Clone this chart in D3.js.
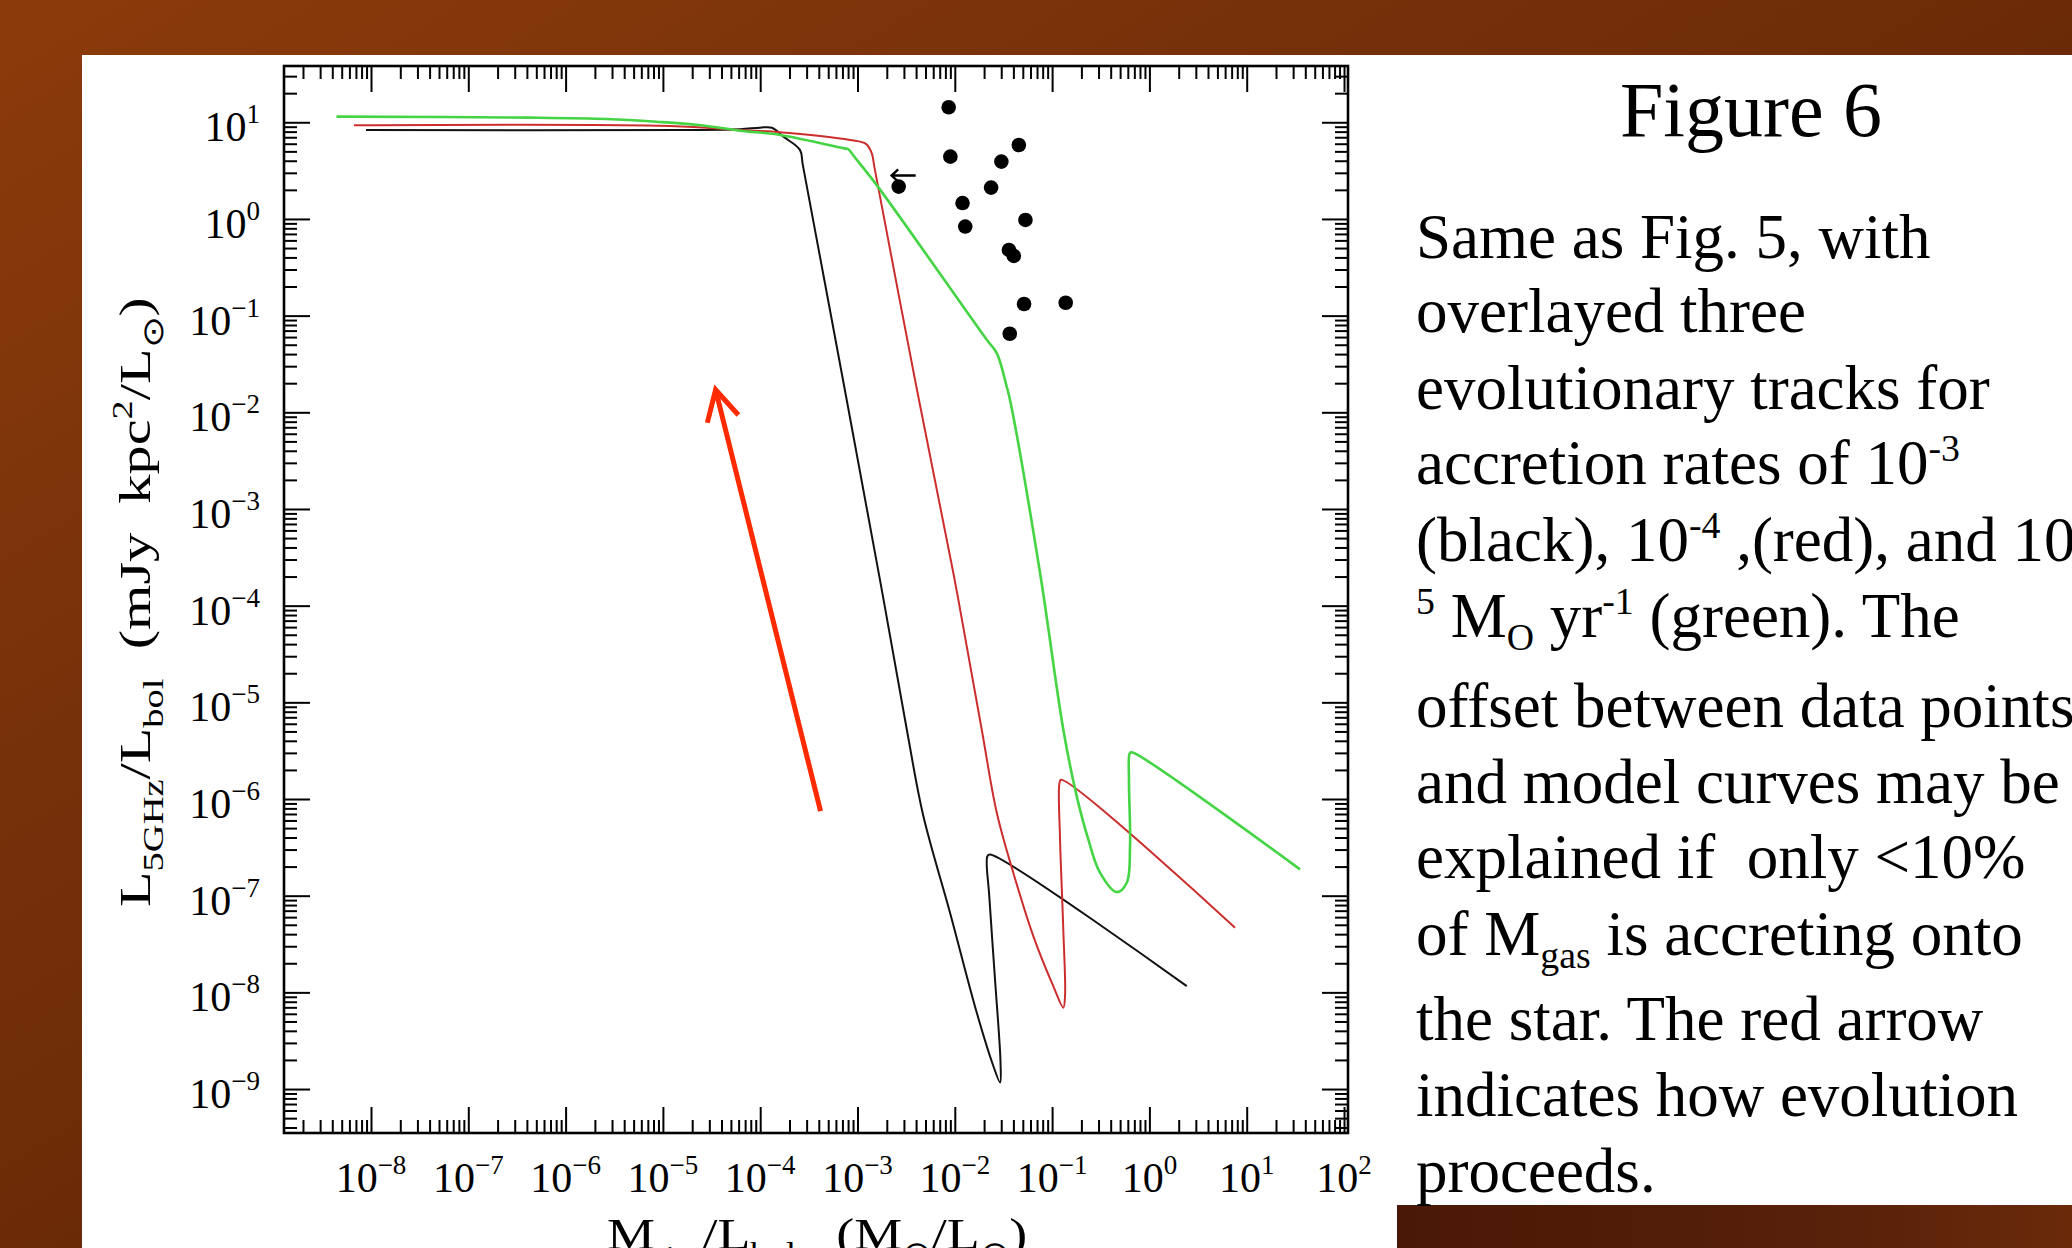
<!DOCTYPE html>
<html><head><meta charset="utf-8">
<script src="https://cdn.jsdelivr.net/npm/d3@7"></script>
<style>html,body{margin:0;padding:0;overflow:hidden;background:#6a2804}</style>
</head><body>
<svg id="c" width="2072" height="1248" xmlns="http://www.w3.org/2000/svg"></svg>
<script>
// ---------------- DATA ----------------
// axis ranges (values)
const xDomain = [1.276e-9, 109.9];
const yDomain = [3.51e-10, 38.2];
const xTickExponents = [-8,-7,-6,-5,-4,-3,-2,-1,0,1,2];
const yTickExponents = [1,0,-1,-2,-3,-4,-5,-6,-7,-8,-9];

// track for 1e-3 Msun/yr (black)
const blackX = [8.89e-9, 1.69e-5, 6.19e-5, 9.95e-5, 1.32e-4, 1.73e-4, 2.56e-4, 2.74e-4, 7.74e-4, 1.70e-3, 3.21e-3, 4.71e-3, 8.93e-3, 1.68e-2, 2.49e-2, 2.92e-2, 2.95e-2, 2.59e-2, 2.26e-2, 2.16e-2, 2.30e-2, 2.42];
const blackY = [8.32, 8.32, 8.47, 8.79, 8.79, 7.10, 5.18, 3.62, 1.35e-2, 1.86e-4, 5.24e-6, 6.92e-7, 6.67e-8, 6.18e-9, 1.73e-9, 1.17e-9, 1.88e-9, 1.36e-8, 9.91e-8, 2.56e-7, 2.67e-7, 1.16e-8];
// track for 1e-4 Msun/yr (red)
const redX = [6.68e-9, 1.18e-5, 6.19e-5, 1.60e-4, 8.38e-4, 1.22e-3, 1.40e-3, 1.49e-3, 3.90e-3, 9.66e-3, 1.89e-2, 2.70e-2, 3.99e-2, 6.41e-2, 0.1028, 0.1303, 0.1358, 0.1303, 0.1205, 0.1186, 0.1233, 7.59];
const redY = [9.31, 9.16, 8.32, 7.89, 6.56, 5.97, 4.79, 3.46, 2.17e-2, 2.18e-4, 5.24e-6, 7.21e-7, 1.73e-7, 3.82e-8, 1.16e-8, 6.95e-9, 9.16e-9, 4.49e-8, 4.03e-7, 1.43e-6, 1.58e-6, 4.67e-8];
// track for 1e-5 Msun/yr (green)
const greenX = [4.42e-9, 4.21e-7, 2.65e-6, 8.57e-6, 2.34e-5, 6.19e-5, 1.60e-4, 7.29e-4, 8.04e-4, 9.20e-4, 1.57e-3, 2.13e-2, 2.70e-2, 3.41e-2, 3.69e-2, 7.52e-2, 0.1303, 0.179, 0.2355, 0.3105, 0.4613, 0.5848, 0.6324, 0.6166, 0.6324, 0.684, 35.3];
const greenY = [11.43, 11.17, 10.81, 10.14, 9.38, 8.18, 7.40, 5.37, 5.26, 4.45, 2.25, 5.62e-2, 4.09e-2, 1.85e-2, 1.35e-2, 2.18e-4, 5.24e-6, 1.07e-6, 3.82e-7, 1.73e-7, 1.09e-7, 1.36e-7, 3.26e-7, 1.59e-6, 3.01e-6, 3.01e-6, 1.87e-7];
// observed sources
const pointsX = [8.65e-3, 9.0e-3, 4.55e-2, 3.01e-2, 2.65e-3, 2.36e-2, 1.20e-2, 5.32e-2, 1.28e-2, 3.60e-2, 4.04e-2, 5.15e-2, 0.138, 3.67e-2];
const pointsY = [14.3, 4.41, 5.82, 3.92, 2.16, 2.11, 1.46, 0.977, 0.834, 0.478, 0.415, 0.132, 0.136, 0.0649];
// limit arrow (tip, tail) and evolution arrow (tail, tip)
const limitArrowX = [2.24e-3, 3.96e-3];
const limitArrowY = [2.81, 2.81];
const evoArrowX = [4.17e-4, 3.48e-5];
const evoArrowY = [7.48e-7, 1.71e-2];

const titleText = "Figure 6";
const bodyLines = [
  "Same as Fig. 5, with",
  "overlayed three",
  "evolutionary tracks for",
  "accretion rates of 10^{-3}",
  "(black), 10^{-4} ,(red), and 10^{-}",
  "^{5} M_{O} yr^{-1} (green). The",
  "offset between data points",
  "and model curves may be",
  "explained if  only <10%",
  "of M_{gas} is accreting onto",
  "the star. The red arrow",
  "indicates how evolution",
  "proceeds."
];
const yTitleRuns = [["L",0],["5GHz",1],["/L",0],["bol",1],["  (mJy  kpc",0],["2",2],["/L",0],["\u2299",1],[")",0]];
const xTitleRuns = [["M",0],["gas",1],["/L",0],["bol",1],["   (M",0],["\u2299",1],["/L",0],["\u2299",1],[")",0]];

// ---------------- DRAW ----------------
const svg = d3.select('#c');
const defs = svg.append('defs');
const bg = defs.append('linearGradient').attr('id','bg').attr('x1',0).attr('y1',0).attr('x2',1).attr('y2',1);
[[0,'#8c3b0b'],[0.35,'#74300a'],[0.7,'#622402'],[1,'#5a2000']].forEach(s=>bg.append('stop').attr('offset',s[0]).attr('stop-color',s[1]));
const bb = defs.append('linearGradient').attr('id','bb').attr('x1',0).attr('y1',0).attr('x2',1).attr('y2',0);
[[0,'#4a1806'],[0.6,'#56200a'],[1,'#6a2a0a']].forEach(s=>bb.append('stop').attr('offset',s[0]).attr('stop-color',s[1]));

svg.append('rect').attr('width',2072).attr('height',1248).attr('fill','url(#bg)');
svg.append('rect').attr('x',82).attr('y',55).attr('width',1990).attr('height',1193).attr('fill','#ffffff');
svg.append('rect').attr('x',1397).attr('y',1205).attr('width',675).attr('height',43).attr('fill','url(#bb)');

const L=284,R=1348,T=66,B=1133;
const x = d3.scaleLog().domain(xDomain).range([L,R]);
const y = d3.scaleLog().domain(yDomain).range([B,T]);

function logTicks(dom){
  const maj=[],min=[];
  for(let n=-11;n<=3;n++) for(let k=1;k<=9;k++){
    const v=+(k*Math.pow(10,n)).toPrecision(6);
    if(v>=dom[0]&&v<=dom[1]) (k===1?maj:min).push(v);
  }
  return {maj,min};
}
const xt=logTicks(xDomain), yt=logTicks(yDomain);
const axG = svg.append('g');
function addAxis(axisFn, scale, vals, size, tr){
  const g = axG.append('g').attr('transform',tr).call(axisFn(scale).tickValues(vals).tickSize(size).tickFormat(()=> ''));
  g.select('.domain').remove();
  g.selectAll('line').attr('stroke','#000').attr('stroke-width',2);
}
addAxis(d3.axisBottom,x,xt.min,-13,`translate(0,${B})`);
addAxis(d3.axisBottom,x,xt.maj,-26,`translate(0,${B})`);
addAxis(d3.axisTop,x,xt.min,-13,`translate(0,${T})`);
addAxis(d3.axisTop,x,xt.maj,-26,`translate(0,${T})`);
addAxis(d3.axisLeft,y,yt.min,-13,`translate(${L},0)`);
addAxis(d3.axisLeft,y,yt.maj,-26,`translate(${L},0)`);
addAxis(d3.axisRight,y,yt.min,-13,`translate(${R},0)`);
addAxis(d3.axisRight,y,yt.maj,-26,`translate(${R},0)`);
svg.append('rect').attr('x',L).attr('y',T).attr('width',R-L).attr('height',B-T).attr('fill','none').attr('stroke','#000').attr('stroke-width',2.6);

const serif = "'Liberation Serif','Times New Roman',serif";
function expStr(n){ return n<0 ? '\u2212'+Math.abs(n) : String(n); }
// tick labels
xTickExponents.forEach(n=>{
  const t = svg.append('text').attr('x',x(Math.pow(10,n))).attr('y',1192).attr('text-anchor','middle')
    .attr('font-family',serif).attr('fill','#000');
  t.append('tspan').attr('font-size',42).text('10');
  t.append('tspan').attr('font-size',27).attr('dy',-18).text(expStr(n));
});
yTickExponents.forEach(n=>{
  const t = svg.append('text').attr('x',260).attr('y',y(Math.pow(10,n))+19).attr('text-anchor','end')
    .attr('font-family',serif).attr('fill','#000');
  t.append('tspan').attr('font-size',42).text('10');
  t.append('tspan').attr('font-size',27).attr('dy',-18).text(expStr(n));
});

// axis titles (stretched to match the wide plotting font)
function runsText(parent, runs, size){
  const t = parent.append('text').attr('font-family',serif).attr('font-size',size).attr('fill','#000')
    .attr('text-anchor','start').style('white-space','pre');
  let cur=0;
  runs.forEach(([s,k])=>{
    const target = k===1 ? size*0.3 : (k===2 ? -size*0.42 : 0);
    t.append('tspan').attr('font-size', k===0?size:size*0.66).attr('dy',target-cur).text(s);
    cur=target;
  });
  return t;
}
function stretchedTitle(runs,size,cx,cy,rot,len){
  const g = svg.append('g').attr('transform',`translate(${cx},${cy}) rotate(${rot})`);
  const inner = g.append('g');
  const t = runsText(inner,runs,size);
  const w = t.node().getComputedTextLength();
  t.attr('x',-w/2);
  inner.attr('transform',`scale(${len/w},1)`);
}
stretchedTitle(yTitleRuns,44,150,602,-90,610);
stretchedTitle(xTitleRuns,44,817,1249,0,420);

// tracks
const line = d3.line().x(d=>x(d[0])).y(d=>y(d[1])).curve(d3.curveCatmullRom.alpha(0.5));
const plot = svg.append('g').attr('fill','none').attr('stroke-linejoin','round');
plot.append('path').datum(d3.zip(blackX,blackY)).attr('d',line).attr('stroke','#111').attr('stroke-width',2);
plot.append('path').datum(d3.zip(redX,redY)).attr('d',line).attr('stroke','#cc2e2e').attr('stroke-width',2);
plot.append('path').datum(d3.zip(greenX,greenY)).attr('d',line).attr('stroke','#44d444').attr('stroke-width',2.6);

// points
svg.append('g').selectAll('circle').data(d3.zip(pointsX,pointsY)).join('circle')
  .attr('cx',d=>x(d[0])).attr('cy',d=>y(d[1])).attr('r',7.3).attr('fill','#000');

// arrows
function arrowPath(x0,y0,x1,y1,len,ang){
  const a=Math.atan2(y0-y1,x0-x1);
  const p1=[x1+len*Math.cos(a+ang), y1+len*Math.sin(a+ang)];
  const p2=[x1+len*Math.cos(a-ang), y1+len*Math.sin(a-ang)];
  return `M${x0},${y0}L${x1},${y1}M${p1[0]},${p1[1]}L${x1},${y1}L${p2[0]},${p2[1]}`;
}
svg.append('path').attr('d',arrowPath(x(limitArrowX[1]),y(limitArrowY[1]),x(limitArrowX[0]),y(limitArrowY[0]),9,0.75))
  .attr('fill','none').attr('stroke','#000').attr('stroke-width',2.4);
svg.append('path').attr('d',arrowPath(x(evoArrowX[0]),y(evoArrowY[0]),x(evoArrowX[1]),y(evoArrowY[1]),34,0.49))
  .attr('fill','none').attr('stroke','#ff2a00').attr('stroke-width',5).attr('stroke-linejoin','miter');

// right-hand caption
svg.append('text').attr('x',1751).attr('y',136).attr('text-anchor','middle').attr('font-family',serif)
  .attr('font-size',78).attr('fill','#000').text(titleText);
const fs=63;
const baselines = [258, 332, 409, 484, 561, 637, 727, 803, 878, 955, 1040, 1116, 1192];
bodyLines.forEach((ln,i)=>{
  const t = svg.append('text').attr('x',1416).attr('y',baselines[i]).attr('font-family',serif)
    .attr('font-size',fs).attr('fill','#000').style('white-space','pre');
  const parts = ln.split(/(\^\{[^}]*\}|_\{[^}]*\})/).filter(s=>s.length);
  let cur=0;
  parts.forEach(p=>{
    let k=0,s=p;
    if(p.startsWith('^{')){k=2;s=p.slice(2,-1);} else if(p.startsWith('_{')){k=1;s=p.slice(2,-1);}
    const target = k===2 ? -fs*0.36 : (k===1 ? fs*0.2 : 0);
    t.append('tspan').attr('font-size',k?fs*0.6:fs).attr('dy',target-cur).text(s);
    cur=target;
  });
});
</script>
</body></html>
